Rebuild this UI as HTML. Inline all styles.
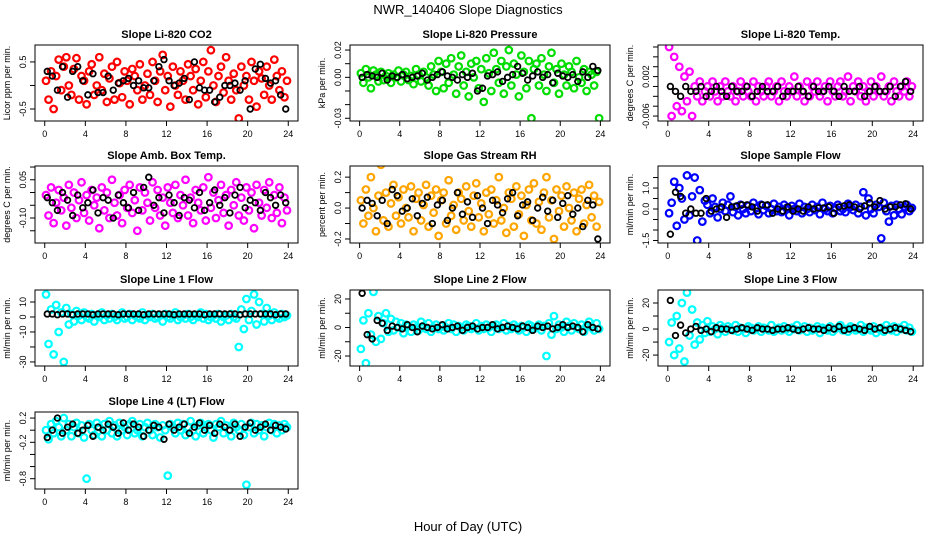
<!DOCTYPE html>
<html><head><meta charset="utf-8">
<style>
body{margin:0;background:#fff;}
svg{display:block;font-family:"Liberation Sans",sans-serif;}
</style></head>
<body>
<svg id="c" width="936" height="540" viewBox="0 0 936 540">
<text x="468" y="14" text-anchor="middle" font-size="13">NWR_140406  Slope Diagnostics</text>
<text x="468" y="531" text-anchor="middle" font-size="13">Hour of Day (UTC)</text>
</svg>
<script>
const titles=["Slope Li-820 CO2","Slope Li-820 Pressure","Slope Li-820 Temp.","Slope Amb. Box Temp.","Slope Gas Stream RH","Slope Sample Flow","Slope Line 1 Flow","Slope Line 2 Flow","Slope Line 3 Flow","Slope Line 4 (LT) Flow"];
const yTitles=["Licor ppm per min.","kPa per min.","degrees C per min.","degrees C per min.","percent per min.","ml/min per min.","ml/min per min.","ml/min per min.","ml/min per min.","ml/min per min."];
const colors=["#ff0000","#00dd00","#ff00ff","#ff00ff","#ffa500","#0000ff","#00ffff","#00ffff","#00ffff","#00ffff"];
const yMin=[-0.755,-0.032,-0.007,-0.198,-0.226,-1.62,-32.7,-27,-28.4,-0.97];
const yMax=[0.86,0.0237,0.0084,0.104,0.272,2.05,18,26.3,30,0.3];
const yTicks=[[-0.5,0,0.5],[-0.03,-0.02,-0.01,0,0.01,0.02],[-0.006,-0.004,-0.002,0,0.002,0.004,0.006,0.008],[-0.15,-0.1,-0.05,0,0.05,0.1],[-0.2,-0.1,0,0.1,0.2],[-1.5,-1,-0.5,0,0.5,1,1.5],[-30,-20,-10,0,10],[-20,-10,0,10,20],[-20,-10,0,10,20],[-0.8,-0.6,-0.4,-0.2,0,0.2]];
const yLabels=[["-0.5","","0.5"],["-0.03","","","0.00","","0.02"],["-0.006","","","","0.002","","",""],["","-0.10","","","0.05",""],["-0.2","","0.0","","0.2"],["-1.5","","","0.0","","1.0",""],["-30","","-10","0","10"],["-20","","0","","20"],["-20","","0","","20"],["-0.8","","","-0.2","","0.2"]];
const xTicks=[0,4,8,12,16,20,24];
const colVals=[
[0.1,-0.3,0.3,-0.5,0.2,0.55,-0.1,0.4,0.6,0.0,-0.2,0.35,0.58,-0.3,0.2,0.1,-0.4,0.3,0.45,-0.2,0.0,0.6,-0.1,0.25,-0.35,0.15,0.4,-0.3,0.5,0.05,-0.25,0.3,0.1,-0.4,0.35,0.2,-0.1,0.45,-0.3,0.0,0.25,-0.2,0.5,0.1,-0.35,0.3,0.65,-0.1,0.2,-0.45,0.4,0.0,-0.2,0.3,0.1,-0.3,0.45,0.2,-0.1,0.35,-0.4,0.1,0.5,-0.25,0.3,0.75,0.0,-0.35,0.2,0.4,-0.15,0.6,0.1,-0.3,0.25,-0.1,-0.7,0.4,0.0,0.2,-0.3,0.5,0.1,-0.45,0.3,0.15,-0.2,0.4,0.0,-0.3,0.55,0.2,-0.1,0.3,-0.25,0.1],
[0.003,-0.004,0.006,0.0,-0.008,0.005,0.002,-0.003,0.004,-0.002,0.001,0.003,-0.004,0.002,0.0,0.005,-0.003,0.002,0.004,-0.002,0.001,-0.005,0.006,0.002,-0.003,0.004,0.0,-0.006,0.008,0.002,-0.01,0.012,0.004,-0.008,0.01,-0.004,0.014,0.002,-0.012,0.008,0.016,-0.006,0.004,-0.014,0.01,0.0,0.012,-0.008,0.006,-0.018,0.014,0.003,-0.01,0.018,0.006,-0.004,0.012,-0.012,0.008,0.02,-0.006,0.01,0.002,-0.014,0.016,0.004,-0.008,0.012,-0.03,0.006,0.01,-0.006,0.014,0.002,-0.01,0.008,0.018,-0.004,0.006,-0.012,0.01,0.002,-0.006,0.008,0.004,-0.008,0.012,0.0,-0.004,0.006,-0.01,0.004,0.002,-0.006,0.004,-0.03],
[0.008,-0.006,0.006,-0.004,0.004,-0.005,0.002,-0.003,0.003,-0.006,0.0,-0.002,0.001,-0.003,-0.001,0.0,-0.002,0.001,-0.001,-0.003,0.0,-0.002,0.001,-0.001,-0.002,0.0,-0.003,-0.001,0.001,-0.002,0.0,-0.001,-0.002,0.001,-0.003,0.0,-0.001,-0.002,0.0,0.001,-0.002,-0.001,0.0,-0.003,0.001,-0.001,-0.002,0.0,-0.001,0.002,-0.002,0.0,-0.001,-0.003,0.001,-0.002,0.0,-0.001,0.001,-0.002,-0.001,0.0,-0.003,0.001,-0.001,-0.002,0.0,0.001,-0.002,-0.001,0.002,-0.003,0.0,-0.001,0.001,-0.002,0.0,-0.003,-0.001,0.001,-0.002,0.0,-0.001,0.002,-0.002,-0.001,0.0,-0.003,0.001,-0.001,-0.002,0.0,-0.001,0.001,-0.002,0.0],
[-0.01,-0.09,0.02,-0.12,-0.04,0.01,-0.07,-0.02,-0.13,0.03,-0.06,0.0,-0.1,-0.03,0.04,-0.08,-0.01,-0.11,0.01,-0.05,-0.02,-0.14,0.02,-0.07,0.0,-0.1,0.05,-0.04,-0.09,-0.01,-0.12,0.01,-0.06,0.03,-0.08,-0.03,-0.15,0.02,-0.07,0.0,-0.04,-0.11,0.04,-0.06,0.01,-0.09,-0.02,-0.13,0.02,-0.04,-0.08,0.03,-0.1,-0.01,-0.05,0.05,-0.09,-0.02,-0.12,0.01,-0.04,-0.07,0.02,-0.11,0.06,-0.06,0.0,-0.1,-0.03,0.03,-0.08,-0.01,-0.13,0.01,-0.05,0.04,-0.09,-0.02,-0.11,0.02,-0.07,0.0,-0.14,0.03,-0.04,-0.09,0.01,-0.06,0.04,-0.1,-0.01,-0.08,0.02,-0.12,-0.02,-0.07],
[0.05,-0.1,0.12,-0.05,0.2,0.0,-0.15,0.08,0.28,-0.08,0.1,-0.12,0.03,0.15,-0.05,0.07,-0.1,0.12,0.0,-0.06,0.14,-0.15,0.06,0.1,-0.08,0.02,0.15,-0.12,0.08,-0.03,0.12,-0.18,0.05,0.1,-0.1,0.18,-0.05,0.02,-0.14,0.1,0.06,-0.08,0.14,-0.02,-0.12,0.08,0.16,-0.06,0.03,-0.15,0.1,-0.04,0.12,-0.1,0.05,0.2,-0.08,0.0,-0.16,0.1,0.06,-0.12,0.14,-0.04,0.08,-0.18,0.02,0.12,-0.08,0.16,-0.1,0.04,-0.14,0.1,0.2,-0.06,0.05,-0.2,0.12,-0.02,0.08,-0.12,0.14,0.0,-0.08,0.1,-0.15,0.06,0.12,-0.1,0.02,0.15,-0.06,0.08,-0.12,0.04],
[-0.2,0.3,1.3,-0.8,1.0,0.5,-0.5,1.6,-0.3,0.6,1.5,-1.5,0.9,-0.6,0.4,0.2,-0.2,0.5,0.1,-0.4,0.0,0.3,-0.1,0.2,0.6,-0.15,0.1,-0.3,0.2,0.0,-0.2,0.15,-0.1,0.3,0.05,-0.25,0.2,-0.05,0.15,-0.2,0.0,0.25,-0.1,0.1,-0.15,0.2,0.05,-0.3,0.15,0.0,-0.1,0.25,-0.2,0.1,0.0,-0.15,0.2,-0.05,0.1,-0.25,0.3,0.0,-0.1,0.15,-0.2,0.05,0.2,-0.1,0.0,-0.15,0.25,0.1,-0.05,0.2,-0.2,0.1,0.8,-0.3,0.5,0.0,-0.2,0.2,0.1,-1.4,0.3,-0.1,-0.6,0.15,-0.3,0.2,0.0,-0.25,0.1,0.2,-0.1,0.05],
[15,-18,5,-25,8,-10,3,-30,6,-5,2,-3,4,1,-2,3,0,-1,2,-3,1,0,3,-2,1,-1,2,0,-2,1,3,-1,0,2,-2,1,0,-1,3,-2,1,0,2,-1,0,1,-3,2,0,-1,1,3,-2,0,1,-1,2,0,-2,1,0,3,-1,2,-2,0,1,-1,2,-3,0,1,-2,2,0,-1,-20,5,-8,12,-2,4,15,-5,10,2,-3,6,1,-2,3,0,-1,2,0,1],
[-15,5,-25,10,-5,25,-10,8,-8,3,10,-3,6,-2,4,0,3,-4,2,1,-3,2,0,-2,4,1,-1,3,-3,0,2,-1,1,-2,0,3,-1,2,-3,1,0,-2,2,1,-1,0,3,-2,1,-1,2,0,-3,1,2,-1,0,3,-2,1,-1,2,0,-2,1,0,-3,2,1,-1,0,2,-2,1,-20,3,-5,8,-1,2,0,-3,4,1,-2,3,0,-1,2,-3,1,4,0,-2,3,-1],
[-10,5,-20,10,-15,20,-25,28,-5,15,-12,5,-8,3,-3,6,-2,2,0,-4,3,1,-2,2,0,-1,3,-2,1,0,-3,2,1,-1,0,2,-2,1,0,-1,3,-2,0,1,-1,2,0,-2,1,0,3,-1,0,2,-2,1,-1,0,2,-3,1,0,-1,2,-2,0,1,3,-1,0,-2,2,1,-1,0,3,-2,1,0,-1,2,-3,0,1,-2,3,0,-1,2,-2,1,0,3,-1,1,-2],
[0.0,-0.15,0.1,-0.05,0.15,0.05,-0.1,0.2,0.0,0.1,-0.1,0.05,0.12,-0.05,0.08,-0.12,-0.8,0.1,0.0,-0.08,0.12,0.05,-0.1,0.1,0.0,0.15,-0.05,0.08,-0.1,0.12,0.0,0.05,-0.08,0.1,0.15,-0.05,0.0,0.1,-0.1,0.05,0.12,0.0,-0.08,0.1,0.05,-0.12,0.08,0.0,-0.75,0.1,0.05,-0.05,0.12,0.0,0.1,-0.08,0.05,0.15,0.0,-0.1,0.08,0.12,-0.05,0.05,0.1,0.0,-0.12,0.1,0.05,0.15,-0.05,0.08,0.0,-0.1,0.12,0.05,0.0,0.1,-0.08,-0.9,0.05,0.12,-0.05,0.1,0.0,0.08,-0.1,0.05,0.12,0.0,0.1,-0.05,0.08,0.0,0.1,0.05]];
const blackVals=[
[0.3,0.2,-0.1,0.4,-0.25,0.3,0.4,0.1,-0.2,0.25,-0.15,-0.15,0.2,-0.1,0.05,0.1,0.15,0.0,0.1,-0.05,-0.05,0.1,0.4,0.55,0.1,0.0,0.05,0.15,-0.3,0.5,-0.05,-0.1,-0.1,-0.35,-0.25,0.0,0.0,0.05,-0.1,0.1,-0.5,0.35,0.45,0.15,0.05,0.1,-0.2,-0.5],
[0.0,0.002,0.001,0.0,0.003,-0.002,0.001,0.0,0.002,-0.001,0.0,0.001,0.003,-0.002,0.0,0.002,0.004,0.001,0.0,-0.002,0.002,0.0,0.003,-0.01,-0.008,0.001,0.002,0.004,-0.003,0.0,0.002,0.008,0.003,-0.002,0.001,0.004,0.0,0.002,-0.004,0.003,0.001,0.0,0.002,-0.003,0.004,0.0,0.008,0.005],
[0.0,-0.001,-0.002,0.0,-0.001,-0.001,0.0,-0.002,-0.001,0.0,-0.001,-0.002,0.0,-0.001,-0.001,0.0,-0.002,-0.001,0.0,-0.001,-0.001,0.0,-0.002,-0.001,-0.001,0.0,-0.001,-0.002,0.0,-0.001,-0.001,0.0,-0.001,-0.002,0.0,-0.001,-0.001,0.0,-0.002,-0.001,0.0,-0.001,-0.001,0.0,-0.002,0.0,0.001,-0.001],
[-0.02,-0.04,-0.07,0.0,-0.03,-0.09,-0.01,-0.06,-0.04,0.01,-0.08,-0.02,-0.03,-0.1,-0.01,-0.04,-0.06,0.0,-0.07,0.02,0.06,-0.05,-0.02,-0.08,-0.01,-0.04,-0.09,-0.02,-0.03,-0.06,0.0,-0.07,-0.04,0.01,-0.05,-0.02,-0.08,-0.01,0.02,-0.06,-0.03,-0.04,-0.07,0.0,-0.02,-0.05,-0.01,-0.04],
[0.0,0.05,0.03,-0.05,0.05,-0.1,0.12,0.08,-0.02,0.0,0.06,-0.05,0.03,0.07,-0.1,0.02,0.05,-0.08,0.0,0.1,-0.04,0.04,-0.06,0.08,0.0,-0.1,0.05,0.02,-0.03,0.06,0.1,-0.05,0.02,0.04,-0.08,0.0,0.07,-0.02,0.05,-0.06,0.03,0.08,-0.04,0.0,-0.12,0.05,0.02,-0.2],
[-1.2,0.8,0.6,-0.2,0.0,-0.2,-0.2,0.5,-0.1,0.0,0.1,-0.4,0.1,0.15,0.2,0.2,0.1,-0.1,0.2,0.2,-0.2,0.0,-0.1,0.1,-0.1,0.0,-0.1,0.1,0.0,0.05,0.05,0.1,-0.2,0.1,0.15,0.2,0.1,0.0,0.15,0.3,0.1,0.4,0.0,0.1,0.1,0.2,0.25,0.0],
[2,2,1.5,2,2,1.5,2,2,2,1.5,2,2,2,2,1.5,2,2,2,2,1.5,2,2,2,2,2,1.5,2,2,2,2,2,1.5,2,2,2,2,2,2,1.5,2,2,2,2,2,2,1.5,2,2],
[24,-5,-8,5,3,-2,1,0,-1,2,0,-3,1,0,-1,0,2,-1,0,1,-2,0,1,-1,0,0,2,-1,0,1,0,-1,1,0,-2,1,0,1,-1,0,2,0,1,0,-3,2,0,-1],
[22,-5,3,-3,0,2,-1,0,-2,1,0,0,-1,0,1,0,-1,1,0,0,-1,0,0,1,0,-1,0,1,0,0,-1,1,0,2,-1,0,1,0,-1,2,0,1,-1,0,1,0,-1,-2],
[-0.12,0.0,0.2,-0.05,0.05,0.1,-0.05,0.0,0.08,-0.1,0.05,0.0,0.1,0.05,-0.05,0.12,0.0,0.1,0.05,-0.1,0.0,0.08,0.05,-0.15,0.1,0.0,0.05,0.1,-0.05,0.05,0.12,0.0,0.08,-0.05,0.1,0.05,0.0,0.1,-0.1,0.05,0.12,0.0,0.05,0.1,0.0,0.08,0.05,0.02]];

const NS="http://www.w3.org/2000/svg";
const svg=document.getElementById('c');
const colX=[35,350,658], colW=[263,260,265];
const rowY=[45,166,290,412], rowH=[76,77,76,77];
function mk(tag,attrs,parent){const e=document.createElementNS(NS,tag);for(const k in attrs)e.setAttribute(k,attrs[k]);(parent||svg).appendChild(e);return e;}
for(let p=0;p<10;p++){
  const bx=colX[p%3], by=rowY[Math.floor(p/3)], bw=colW[p%3], bh=rowH[Math.floor(p/3)];
  const g=mk('g',{});
  
  
  const xs=h=>bx+(h+0.96)/25.92*bw;
  const ys=v=>by+bh-(v-yMin[p])/(yMax[p]-yMin[p])*bh;
  const t=mk('text',{x:bx+bw/2,y:by-7,'text-anchor':'middle','font-size':11,'font-weight':'bold'},g);
  t.textContent=titles[p];
  
  
  const yt=mk('text',{x:0,y:0,'text-anchor':'middle','font-size':9,transform:`translate(${bx-25},${by+bh/2}) rotate(-90)`},g);
  yt.textContent=yTitles[p];
  
  
  const clip=mk('clipPath',{id:'cl'+p},g);
  mk('rect',{x:bx,y:by,width:bw,height:bh},clip);
  const pts=mk('g',{'clip-path':`url(#cl${p})`},g);
  colVals[p].forEach((v,i)=>{
    const c=mk('circle',{cx:xs(i*0.25+0.125),cy:ys(v),r:3.3,fill:'none',stroke:colors[p],'stroke-width':2.2},pts);
    
    
  });
  blackVals[p].forEach((v,i)=>{
    const c=mk('circle',{cx:xs(i*0.5+0.25),cy:ys(v),r:2.8,fill:'none',stroke:'#000','stroke-width':1.8},pts);
    
    
  });
  const box=mk('rect',{x:bx,y:by,width:bw,height:bh,fill:'none',stroke:'#000','stroke-width':1},g);
  
  
  xTicks.forEach(h=>{
    mk('line',{x1:xs(h),x2:xs(h),y1:by+bh,y2:by+bh+5,stroke:'#000'},g);
    const l=mk('text',{x:xs(h),y:by+bh+16,'text-anchor':'middle','font-size':9},g);
    l.textContent=h;
    
    
  });
  yTicks[p].forEach((v,i)=>{
    mk('line',{x1:bx-5,x2:bx,y1:ys(v),y2:ys(v),stroke:'#000'},g);
    const l=mk('text',{x:0,y:0,'text-anchor':'middle','font-size':9,transform:`translate(${bx-9},${ys(v)}) rotate(-90)`},g);
    l.textContent=yLabels[p][i];
    
    
  });
}
</script>
</body></html>
